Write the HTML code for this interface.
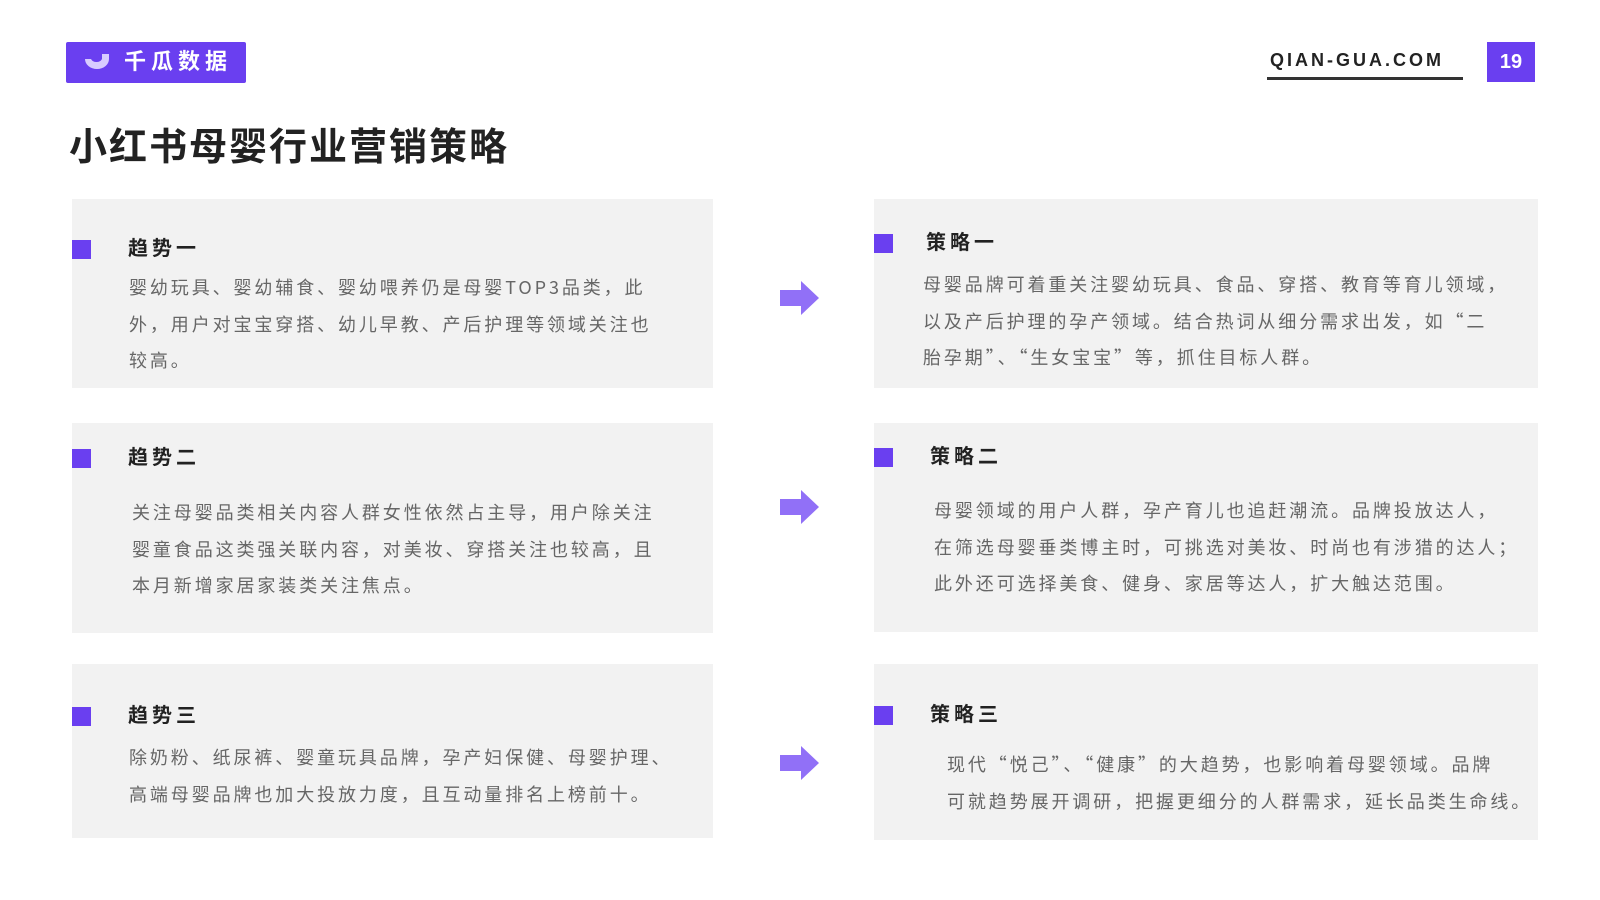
<!DOCTYPE html>
<html><head><meta charset="utf-8"><style>
*{margin:0;padding:0;box-sizing:border-box}
body{width:1600px;height:900px;background:#fff;position:relative;overflow:hidden;font-family:"Liberation Sans","Noto Sans CJK SC",sans-serif}
.abs{position:absolute}
.card{position:absolute;background:#f2f2f2}
.sq{position:absolute;width:19px;height:19px;background:#6a3ff0}
.h{position:absolute;font-size:20px;font-weight:bold;color:#222;letter-spacing:4px;line-height:24px;white-space:nowrap}
.t{position:absolute;font-family:"Noto Sans CJK SC",sans-serif;font-size:18px;color:#666;letter-spacing:2.9px;line-height:36.5px;white-space:nowrap}
.arr{position:absolute;width:40px;height:34px}
</style></head><body>
<div class="abs" style="left:66px;top:42px;width:180px;height:41px;background:#6a3ff0;border-radius:2px"></div>
<svg class="abs" style="left:80px;top:48px" width="36" height="30" viewBox="0 0 36 30"><path d="M5 11 A12 10 0 0 0 29 11 L29 6 L22 6 L22 11 A6 5 0 0 1 11 11 Z" fill="#d8ccff"/></svg>
<div class="abs" style="left:124px;top:49px;font-size:22px;font-weight:bold;color:#fff;letter-spacing:5px;line-height:26px">千瓜数据</div>
<div class="abs" style="left:1270px;top:49px;font-size:18px;font-weight:bold;color:#222;letter-spacing:3px;line-height:22px">QIAN-GUA.COM</div>
<div class="abs" style="left:1267px;top:77px;width:196px;height:3px;background:#333"></div>
<div class="abs" style="left:1487px;top:42px;width:48px;height:40px;background:#6a3ff0;color:#fff;font-size:20px;font-weight:bold;text-align:center;line-height:40px">19</div>
<div class="abs" style="left:69px;top:125px;font-size:38px;font-weight:bold;color:#222;line-height:46px;letter-spacing:2px">小红书母婴行业营销策略</div>

<div class="card" style="left:72px;top:199px;width:641px;height:189px"></div>
<div class="card" style="left:72px;top:423px;width:641px;height:210px"></div>
<div class="card" style="left:72px;top:664px;width:641px;height:174px"></div>
<div class="card" style="left:874px;top:199px;width:664px;height:189px"></div>
<div class="card" style="left:874px;top:423px;width:664px;height:209px"></div>
<div class="card" style="left:874px;top:664px;width:664px;height:176px"></div>

<div class="sq" style="left:72px;top:240px"></div>
<div class="sq" style="left:72px;top:449px"></div>
<div class="sq" style="left:72px;top:707px"></div>
<div class="sq" style="left:874px;top:234px"></div>
<div class="sq" style="left:874px;top:448px"></div>
<div class="sq" style="left:874px;top:706px"></div>

<div class="h" style="left:128px;top:237px">趋势一</div>
<div class="t" style="left:129px;top:269px">婴幼玩具、婴幼辅食、婴幼喂养仍是母婴TOP3品类，此<br>外，用户对宝宝穿搭、幼儿早教、产后护理等领域关注也<br>较高。</div>
<div class="h" style="left:128px;top:446px">趋势二</div>
<div class="t" style="left:132px;top:494px">关注母婴品类相关内容人群女性依然占主导，用户除关注<br>婴童食品这类强关联内容，对美妆、穿搭关注也较高，且<br>本月新增家居家装类关注焦点。</div>
<div class="h" style="left:128px;top:704px">趋势三</div>
<div class="t" style="left:129px;top:739px">除奶粉、纸尿裤、婴童玩具品牌，孕产妇保健、母婴护理、<br>高端母婴品牌也加大投放力度，且互动量排名上榜前十。</div>

<div class="h" style="left:926px;top:231px">策略一</div>
<div class="t" style="left:923px;top:266px">母婴品牌可着重关注婴幼玩具、食品、穿搭、教育等育儿领域，<br>以及产后护理的孕产领域。结合热词从细分需求出发，如“二<br>胎孕期”、“生女宝宝”等，抓住目标人群。</div>
<div class="h" style="left:930px;top:445px">策略二</div>
<div class="t" style="left:934px;top:492px">母婴领域的用户人群，孕产育儿也追赶潮流。品牌投放达人，<br>在筛选母婴垂类博主时，可挑选对美妆、时尚也有涉猎的达人；<br>此外还可选择美食、健身、家居等达人，扩大触达范围。</div>
<div class="h" style="left:930px;top:703px">策略三</div>
<div class="t" style="left:947px;top:746px">现代“悦己”、“健康”的大趋势，也影响着母婴领域。品牌<br>可就趋势展开调研，把握更细分的人群需求，延长品类生命线。</div>

<svg class="arr" style="left:780px;top:281px" viewBox="0 0 40 34"><path d="M0 9 H21 V0 L39 17 L21 34 V25 H0 Z" fill="#9170f7"/></svg>
<svg class="arr" style="left:780px;top:490px" viewBox="0 0 40 34"><path d="M0 9 H21 V0 L39 17 L21 34 V25 H0 Z" fill="#9170f7"/></svg>
<svg class="arr" style="left:780px;top:746px" viewBox="0 0 40 34"><path d="M0 9 H21 V0 L39 17 L21 34 V25 H0 Z" fill="#9170f7"/></svg>
</body></html>
